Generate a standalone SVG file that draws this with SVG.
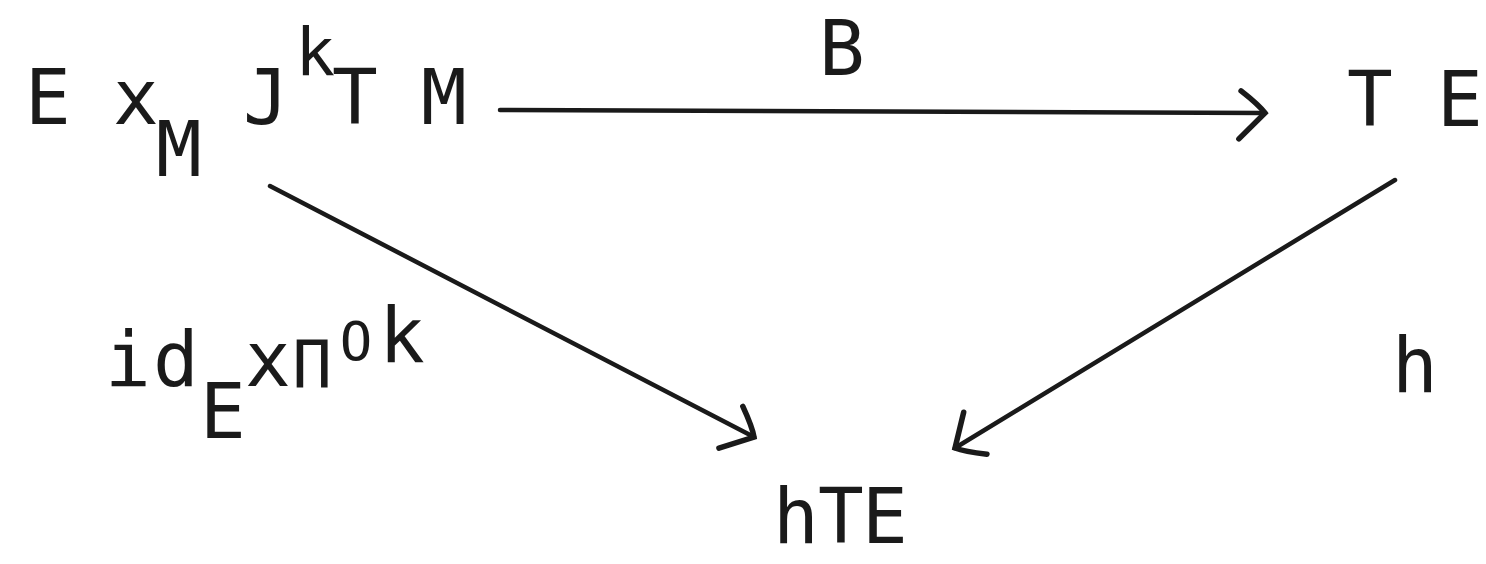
<svg xmlns="http://www.w3.org/2000/svg" width="1486" height="564" viewBox="0 0 1486 564">
<style>
.t{font-family:"DejaVu Sans Mono","Liberation Mono",monospace;font-size:76px;fill:#1a1a1a;text-anchor:middle}
.s{font-size:66px}
.ss{font-size:54px}
.ln{stroke:#1a1a1a;stroke-width:4.5;fill:none;stroke-linecap:round;stroke-linejoin:round}
</style>
<defs>
<marker id="ah" markerUnits="userSpaceOnUse" markerWidth="60" markerHeight="60" viewBox="-40 -30 50 60" refX="0" refY="0" orient="auto">
<path d="M-24,-22 Q-6,-8 0,0 Q-10,10 -26,26" stroke="#1a1a1a" stroke-width="5.5" fill="none" stroke-linecap="round"/>
</marker>
</defs>
<rect width="1486" height="564" fill="#fff"/>
<g id="connectors">
<path class="ln" d="M500,110 L1265,113" marker-end="url(#ah)"/>
<path class="ln" d="M270,186 L754,437" marker-end="url(#ah)"/>
<path class="ln" d="M1395,180 L955,448" marker-end="url(#ah)"/>
</g>
<g id="node-source">
<text class="t" x="48" y="124">E</text>
<text class="t" x="136" y="124">x</text>
<text class="t" x="179" y="176">M</text>
<text class="t" x="266" y="124">J</text>
<text class="t s" x="315" y="75">k</text>
<text class="t" x="355" y="124">T</text>
<text class="t" x="444" y="124">M</text>
</g>
<g id="node-TE">
<text class="t" x="1370" y="126">T</text>
<text class="t" x="1460" y="126">E</text>
</g>
<g id="node-hTE">
<text class="t" x="796" y="543">h</text>
<text class="t" x="841" y="543">T</text>
<text class="t" x="885" y="543">E</text>
</g>
<g id="label-B">
<text class="t" x="842" y="75">B</text>
</g>
<g id="label-left">
<text class="t" x="128" y="386">i</text>
<text class="t" x="176" y="386">d</text>
<text class="t" x="223" y="438">E</text>
<text class="t" x="268" y="386">x</text>
<text class="t s" x="312" y="388">Π</text>
<text class="t ss" x="356" y="360">O</text>
<text class="t" x="402" y="362">k</text>
</g>
<g id="label-h">
<text class="t" x="1415" y="392">h</text>
</g>
</svg>
